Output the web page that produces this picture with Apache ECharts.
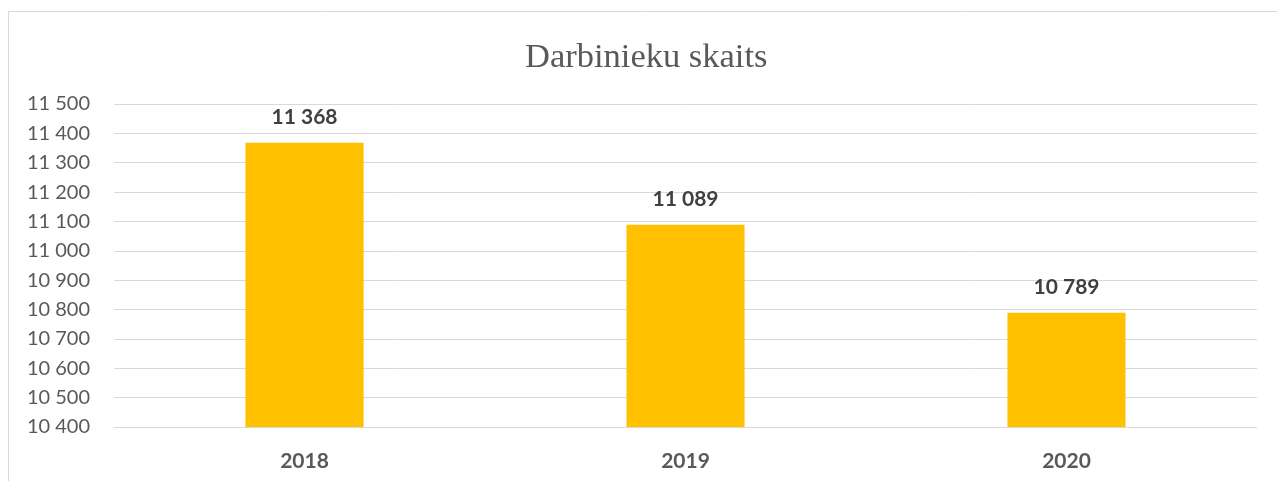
<!DOCTYPE html>
<html>
<head>
<meta charset="utf-8">
<script src="https://cdn.jsdelivr.net/npm/echarts@6/dist/echarts.min.js"></script>
<style>
  html, body { margin: 0; padding: 0; background: #fff; }
  #Echarts { width: 1277px; height: 481px; }
</style>
</head>
<body>
<div id="Echarts"></div>
<script>
// dati
var years = ['2018', '2019', '2020'];
var workers = [11368, 11089, 10789];
var yMin = 10400, yMax = 11500, yStep = 100;

function fmt(v) {
    return String(v).replace(/\B(?=(\d{3})+(?!\d))/g, ' ');
}

var myChart = echarts.init(document.getElementById('Echarts'));

var option = {
    animation: false,
    title: {
        text: 'Darbinieku skaits',
        left: 520,
        top: 35,
        textStyle: {
            fontFamily: 'Liberation Serif',
            fontSize: 34.5,
            fontWeight: 'normal',
            color: '#595959'
        }
    },
    graphic: [{
        type: 'rect',
        shape: { x: 8.5, y: 11.5, width: 1300, height: 500 },
        style: { fill: 'none', stroke: '#d9d9d9', lineWidth: 1 },
        silent: true
    }],
    grid: { left: 114, right: 20, top: 104, bottom: 54 },
    xAxis: {
        type: 'category',
        data: years,
        axisLine: { show: true, lineStyle: { color: '#d9d9d9' } },
        axisTick: { show: false },
        axisLabel: {
            margin: 24,
            fontFamily: 'Lato',
            fontSize: 21,
            fontWeight: 'bold',
            color: '#595959'
        }
    },
    yAxis: {
        type: 'value',
        min: yMin,
        max: yMax,
        interval: yStep,
        axisLine: { show: false },
        axisTick: { show: false },
        splitLine: { lineStyle: { color: '#d9d9d9', width: 1 } },
        axisLabel: {
            margin: 24,
            fontFamily: 'Lato',
            fontSize: 20,
            color: '#595959',
            formatter: fmt
        }
    },
    series: [{
        type: 'bar',
        data: workers,
        barWidth: '31%',
        itemStyle: { color: '#FFC000' },
        label: {
            show: true,
            position: 'top',
            distance: 15,
            fontFamily: 'Lato',
            fontSize: 21,
            fontWeight: 'bold',
            color: '#404040',
            formatter: function (p) { return fmt(p.value); }
        }
    }]
};

myChart.setOption(option);
</script>
</body>
</html>
